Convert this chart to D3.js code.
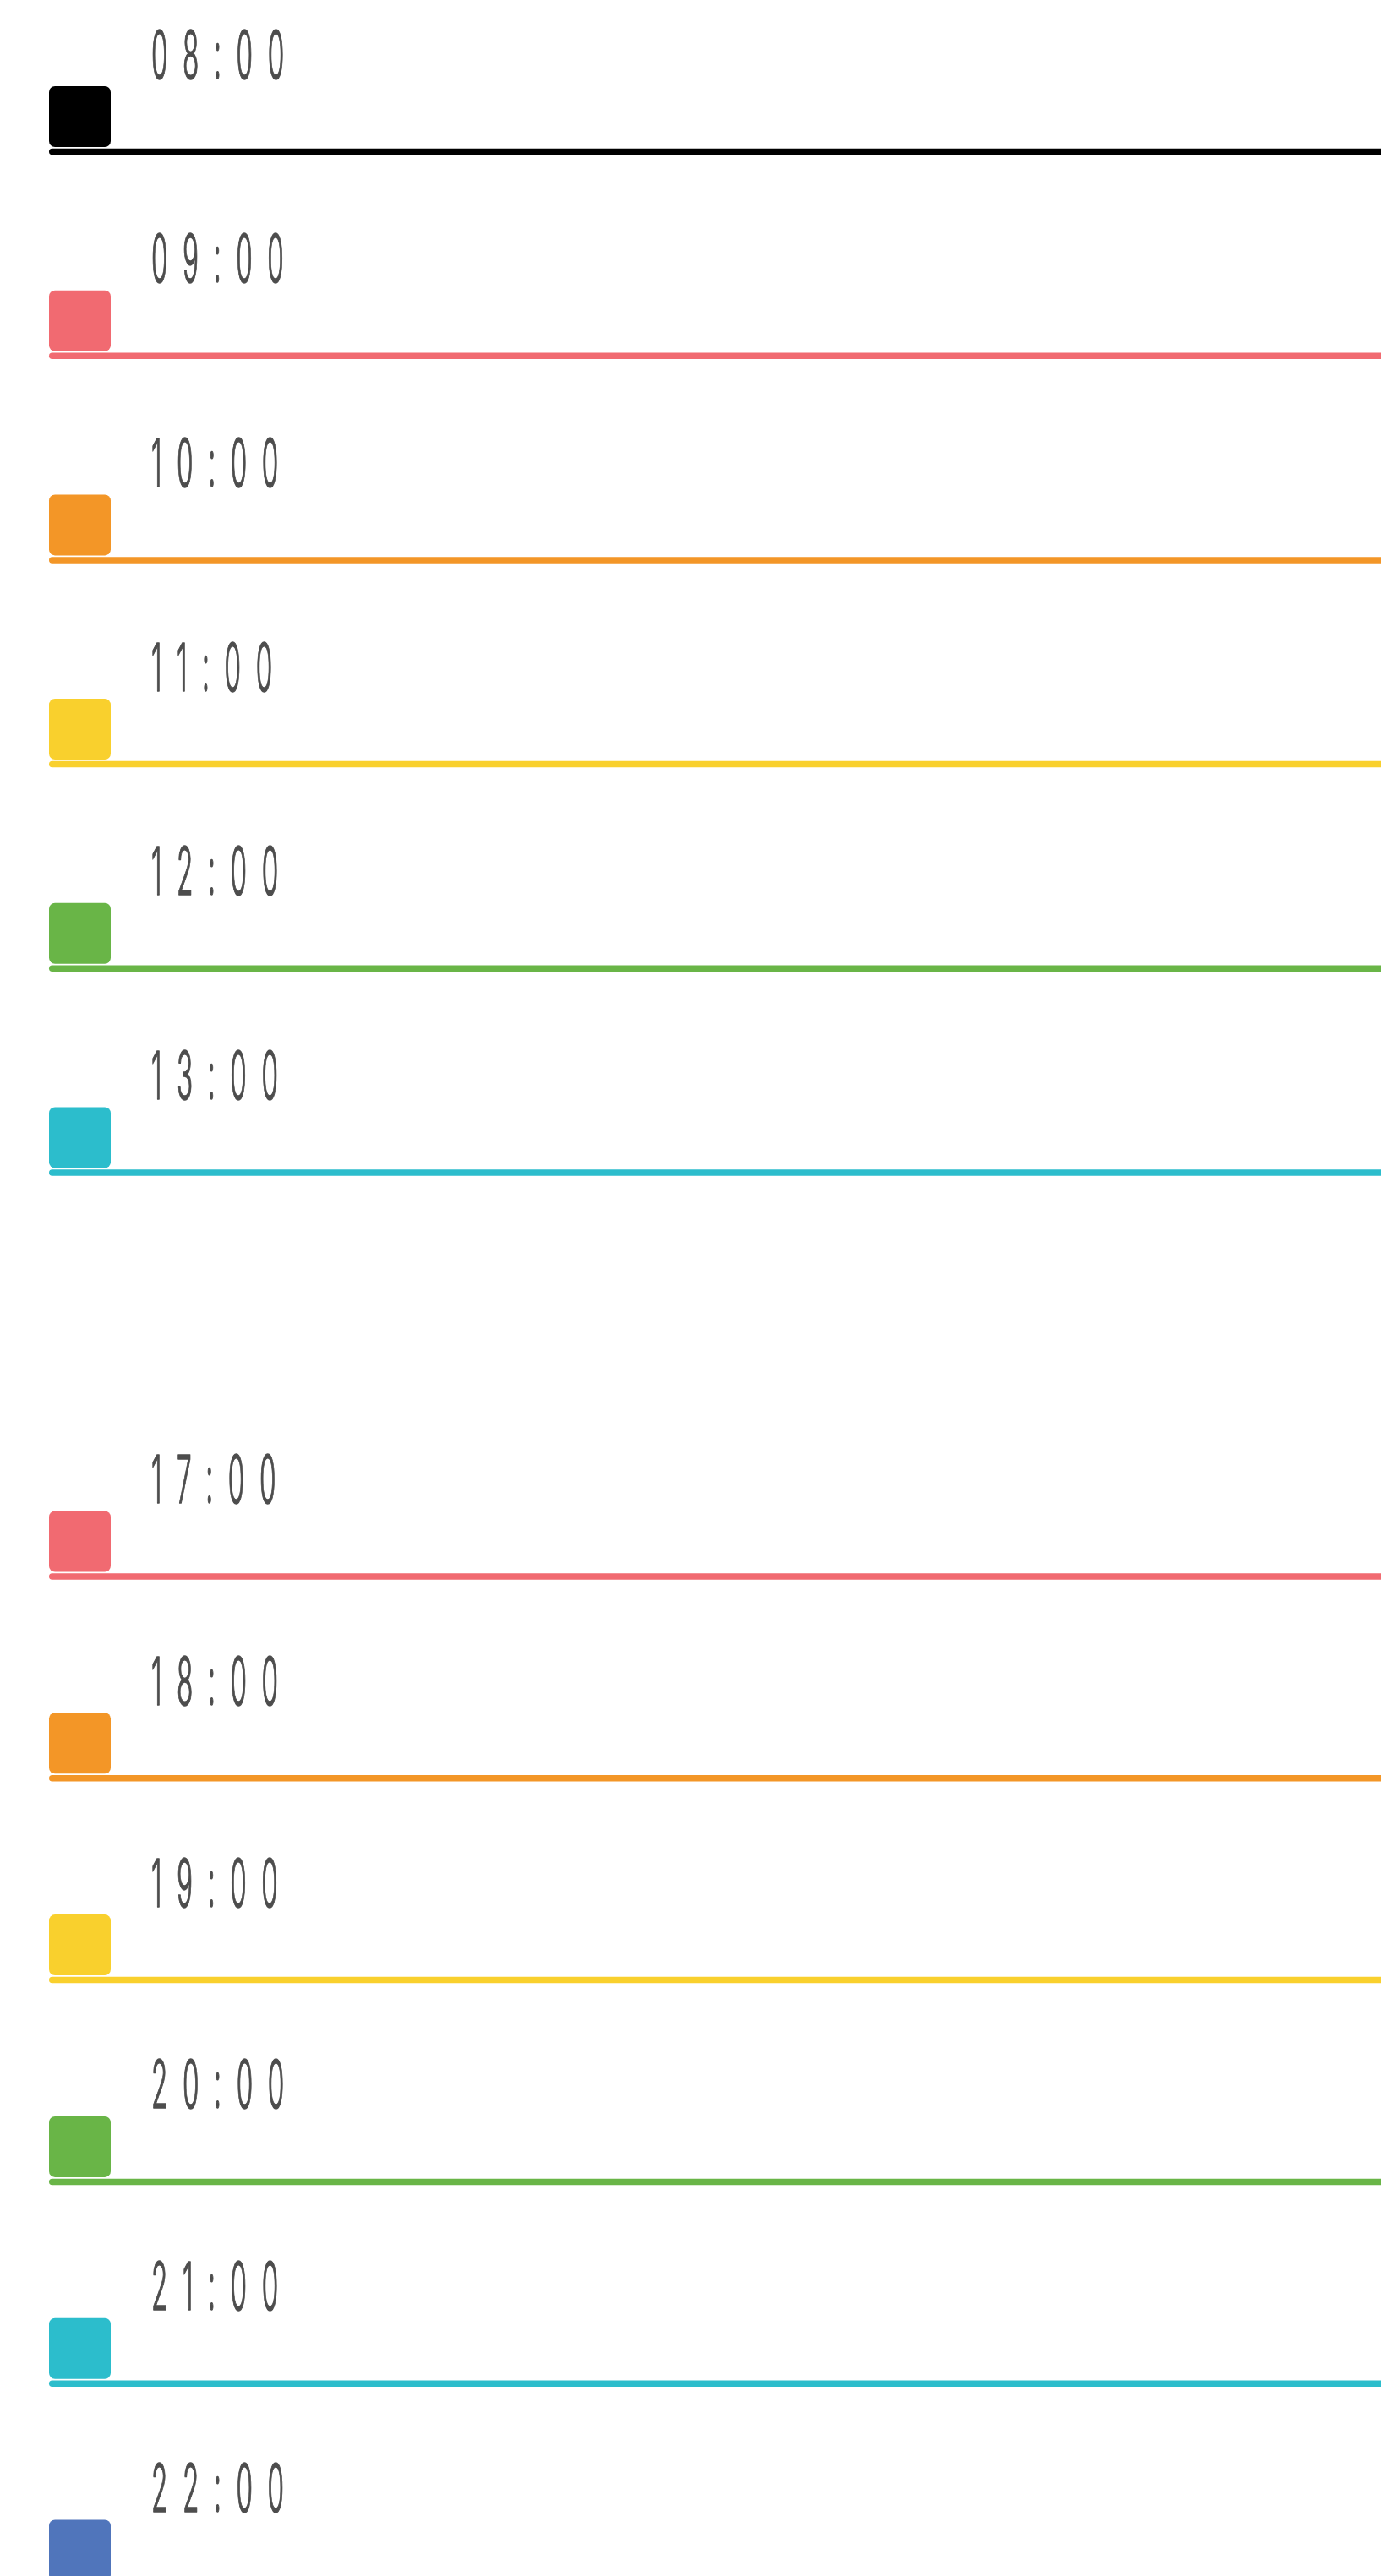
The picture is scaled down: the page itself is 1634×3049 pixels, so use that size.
<!DOCTYPE html>
<html>
<head>
<meta charset="utf-8">
<script src="https://d3js.org/d3.v7.min.js"></script>
<style>
  html, body { margin: 0; padding: 0; background: #ffffff; }
  svg { display: block; }
</style>
</head>
<body>
<div id="timeline"></div>
<script>
// data
var hourLabels = ["08:00", "09:00", "10:00", "11:00", "12:00", "13:00",
                  "17:00", "18:00", "19:00", "20:00", "21:00", "22:00"];
var hourValues = [8, 9, 10, 11, 12, 13, 17, 18, 19, 20, 21, 22];
var hourColors = ["#000000", "#f16a71", "#f39627", "#f9d02d", "#69b547", "#2cbdcc",
                  "#f16a71", "#f39627", "#f9d02d", "#69b547", "#2cbdcc", "#5075bb"];

var svgWidth = 1634;
var svgHeight = 3049;

var margin = {
    top: 0,
    right: 0,
    bottom: 0,
    left: 58
};

var rows = hourValues.map(function(h, i) {
    return { hour: h, label: hourLabels[i], color: hourColors[i] };
});

var svg = d3.select("#timeline")
    .append("svg")
    .attr("width", svgWidth)
    .attr("height", svgHeight);

// broken time axis: 14:00-16:00 squeezed into one empty row
var yScale = d3.scaleLinear()
    .domain([8, 13, 17, 22])
    .range([179.5, 1388, 1866, 3060]);

var lineWidth = 7.5;
var boxSize = 73;

var rowGroup = svg.selectAll("g.row")
    .data(rows)
    .enter()
    .append("g")
    .attr("class", "row")
    .attr("transform", d => `translate(0, ${yScale(d.hour)})`);

// hour rule
rowGroup.append("line")
    .attr("x1", margin.left + lineWidth / 2)
    .attr("x2", svgWidth + 20)
    .attr("y1", 0)
    .attr("y2", 0)
    .attr("stroke", d => d.color)
    .attr("stroke-width", lineWidth)
    .attr("stroke-linecap", "round");

// colour box
rowGroup.append("rect")
    .attr("x", margin.left)
    .attr("y", -77.5)
    .attr("width", boxSize)
    .attr("height", 72)
    .attr("rx", 7)
    .attr("ry", 7)
    .attr("fill", d => d.color);

// hour label (narrow, spaced out)
rowGroup.append("text")
    .attr("transform", "translate(179, -87) scale(0.4, 1)")
    .attr("font-family", "Inter")
    .attr("font-weight", 300)
    .attr("font-size", 79)
    .attr("letter-spacing", 44)
    .attr("fill", "#4d4d4d")
    .attr("stroke", "#4d4d4d")
    .attr("stroke-width", 1.2)
    .attr("vector-effect", "non-scaling-stroke")
    .attr("stroke-linejoin", "round")
    .text(d => d.label);
</script>
</body>
</html>
